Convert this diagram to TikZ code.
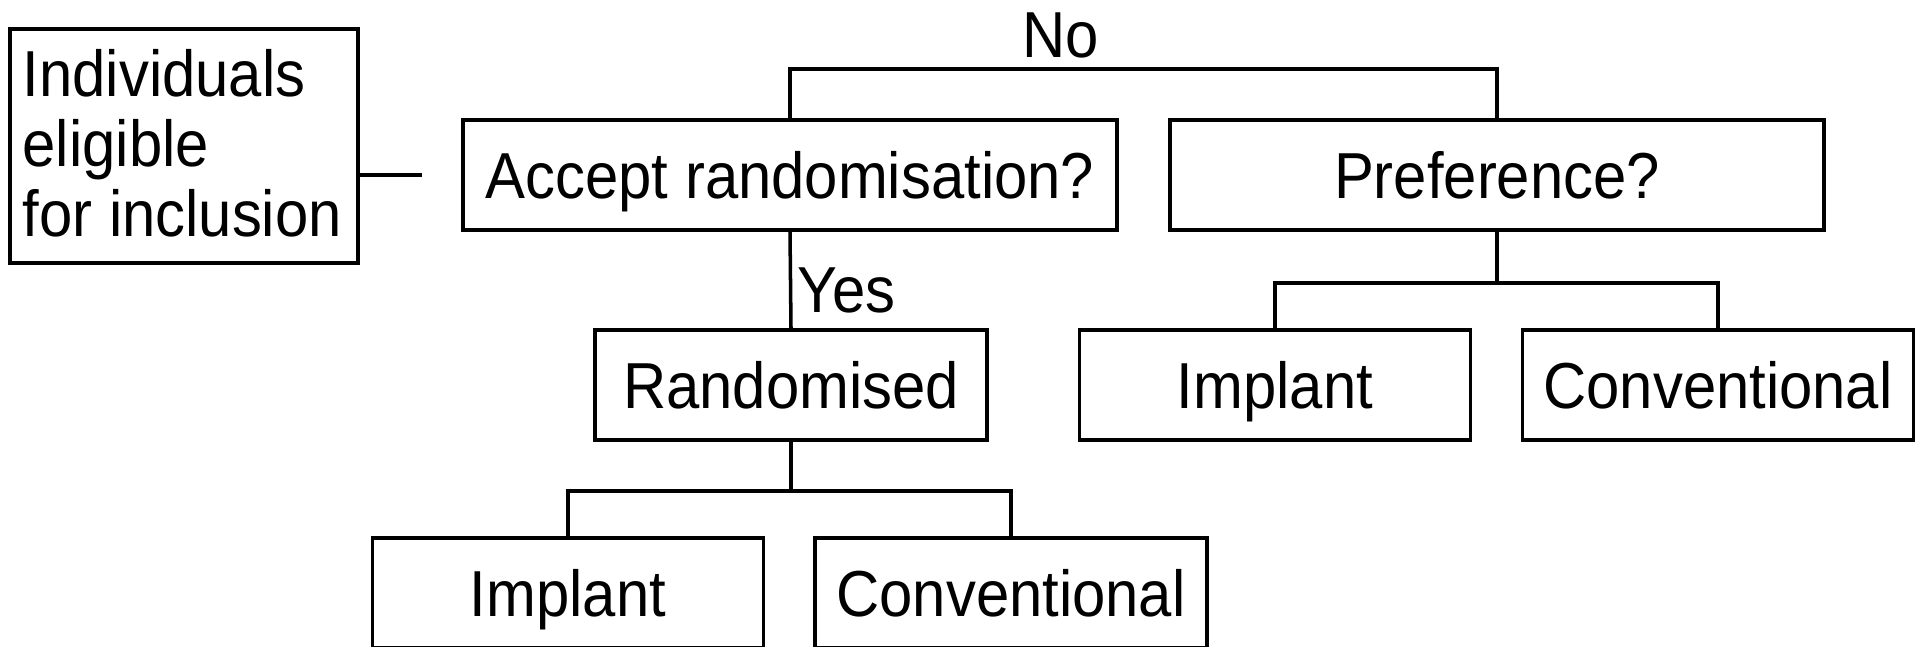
\documentclass[tikz,border=0pt]{standalone}
\usepackage{fontspec}
\setmainfont{Liberation Sans}[FakeStretch=0.92]
\begin{document}
\begin{tikzpicture}[x=0.1mm,y=-0.1mm,
  box/.style={draw,line width=1.1pt,inner sep=0pt,text height=15pt,text depth=1.75pt,font=\fontsize{18.5}{20}\selectfont},
  lbl/.style={inner sep=0pt,font=\fontsize{18.5}{20}\selectfont},
  conn/.style={line width=1pt}]
\useasboundingbox (0,0) rectangle (1917,647);
\node[draw,line width=1.1pt,inner sep=0pt,minimum width=34.8mm,minimum height=23.4mm] (elig) at (184,146) {};
\node[lbl,align=left,anchor=west,font=\fontsize{18.5}{19.9}\selectfont] (eligt) at (22,143) {Individuals\\eligible\\for inclusion};
\coordinate (lend) at (422,175);
\node[box,minimum width=65.4mm,minimum height=11mm] (acc) at (790,175) {Accept randomisation?};
\node[box,minimum width=65.4mm,minimum height=11mm] (pref) at (1497,175) {Preference?};
\node[box,minimum width=39.2mm,minimum height=11mm] (rand) at (791,385) {Randomised};
\node[box,minimum width=39.1mm,minimum height=11mm] (imp1) at (568,593) {Implant};
\node[box,minimum width=39.2mm,minimum height=11mm] (con1) at (1011,593) {Conventional};
\node[box,minimum width=39.1mm,minimum height=11mm] (imp2) at (1275,385) {Implant};
\node[box,minimum width=39.1mm,minimum height=11mm] (con2) at (1718,385) {Conventional};
\node[lbl] (no) at (1061,35) {No};
\node[lbl,anchor=west] (yes) at (797,290) {Yes};
\draw[conn] (elig.east |- lend) -- (lend);
\draw[conn] (acc.north) -- ++(0,-49) -| (pref.north);
\draw[conn] (acc.south) -- (rand.north);
\draw[conn] (rand.south) -- ++(0,49) -| (imp1.north);
\draw[conn] (rand.south) ++(0,49) -| (con1.north);
\draw[conn] (pref.south) -- ++(0,51) -| (imp2.north);
\draw[conn] (pref.south) ++(0,51) -| (con2.north);
\end{tikzpicture}
\end{document}
